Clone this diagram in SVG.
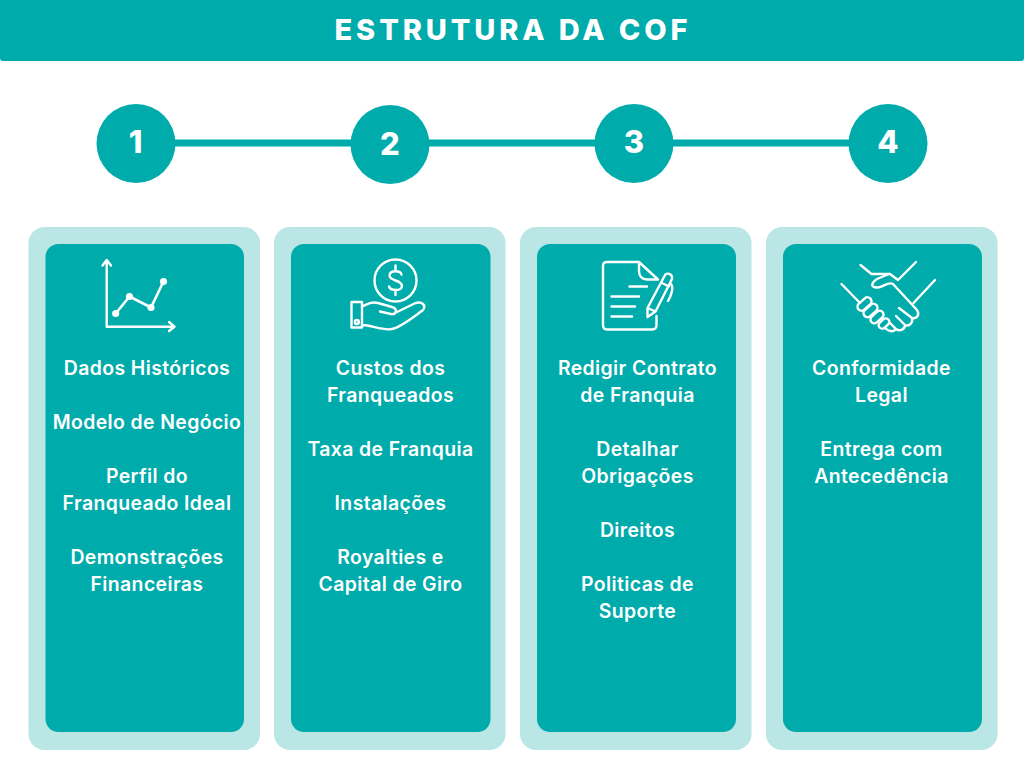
<svg xmlns="http://www.w3.org/2000/svg" width="1024" height="768" viewBox="0 0 1024 768">
<style>
.t{fill:#fff;font-family:Inter,"Open Sans","Liberation Sans",sans-serif;font-weight:600;font-size:19.400px;letter-spacing:.4px;text-anchor:middle}
.n{fill:#fff;font-family:Inter,"Liberation Sans",sans-serif;font-weight:800;font-size:31px;text-anchor:middle}
.o{fill:#bae6e5}.i{fill:#00abab}
.ic{fill:none;stroke:#fff;stroke-width:2.400;stroke-linecap:round;stroke-linejoin:round}
</style>
<rect width="1024" height="768" fill="#fff"/>
<g id="header"><rect x="0" y="-10" width="1024" height="71" rx="3" class="i"/>
<text x="513" y="40" fill="#fff" font-family="Inter,'Liberation Sans',sans-serif" font-weight="800" font-size="29" letter-spacing="3.900" text-anchor="middle">ESTRUTURA DA COF</text></g>
<g id="connectors"><path d="M175 143H351M429 143H595M673 143H849" stroke="#00abab" stroke-width="7" fill="none"/></g>
<g id="step1"><circle cx="136" cy="143.500" r="39.500" class="i"/><text x="135.500" y="153" class="n">1</text></g>
<g id="step2"><circle cx="390" cy="144.500" r="39.500" class="i"/><text x="390" y="155" class="n">2</text></g>
<g id="step3"><circle cx="634" cy="143.500" r="39.500" class="i"/><text x="634" y="153" class="n">3</text></g>
<g id="step4"><circle cx="888" cy="143.500" r="39.500" class="i"/><text x="888" y="153" class="n">4</text></g>
<g id="card1"><rect x="28.500" y="227" width="231.500" height="523" rx="16" class="o"/><rect x="45.500" y="244" width="198.500" height="488" rx="13" class="i"/>
<g class="ic"><path d="M106.700 261V326.700H174M102.500 265.500L106.700 260L111 265.500M169 322L174.500 326.700L169 331"/><path d="M115.700 313.500L129.500 296.500L151 307.500L163.500 281.500" stroke-width="2.600"/></g>
<g fill="#fff"><circle cx="115.700" cy="313.500" r="3.600"/><circle cx="129.500" cy="296.500" r="3.600"/><circle cx="151" cy="307.500" r="3.600"/><circle cx="163.500" cy="281.500" r="3.600"/></g>
<text x="147" y="374.500" class="t">Dados Históricos</text><text x="147" y="428.500" class="t">Modelo de Negócio</text><text x="147" y="482.500" class="t">Perfil do</text><text x="147" y="509.500" class="t">Franqueado Ideal</text><text x="147" y="563.500" class="t">Demonstrações</text><text x="147" y="590.500" class="t">Financeiras</text></g>
<g id="card2"><rect x="274" y="227" width="231.500" height="523" rx="16" class="o"/><rect x="291" y="244" width="199.500" height="488" rx="13" class="i"/>
<g class="ic"><circle cx="395.500" cy="280.500" r="21"/><path d="M401.500 274.500C400.500 270.500 390 269.500 389.500 275.500C389.500 281.500 402 279.500 402 286C401.500 291.500 390.500 291 389 286.500M395.500 265.500V269.500M395.500 291V295"/>
<path d="M351.500 302H362V327.500H351.500ZM362 306.500C368 303.500 372 301.500 378 303L392 307C398 308.500 396.500 315 391 314L380 311.500M394 313.500L414.500 303.500C422 300.500 427 305.500 422.500 310.500C412 318 401 327 392 329C382 331 372 325 362 325"/><circle cx="356.800" cy="322" r="2"/></g>
<text x="390.500" y="374.500" class="t">Custos dos</text><text x="390.500" y="401.500" class="t">Franqueados</text><text x="390.500" y="455.500" class="t">Taxa de Franquia</text><text x="390.500" y="509.500" class="t">Instalações</text><text x="390.500" y="563.500" class="t">Royalties e</text><text x="390.500" y="590.500" class="t">Capital de Giro</text></g>
<g id="card3"><rect x="520" y="227" width="231.500" height="523" rx="16" class="o"/><rect x="537" y="244" width="199" height="488" rx="13" class="i"/>
<g class="ic"><path d="M639 262H607C604 262 603 263.500 603 266V325C603 328 604.500 329.500 607 329.500H652C655 329.500 656.500 328 656.500 325V316M639 262L658 279.500M639 262V271C639 276 642 279.500 647 279.500H658"/>
<path d="M629.500 286.500H647M611.500 296.500H639M611.500 306.500H635M611.500 316.500H632"/>
<path d="M647.500 308L664.500 276C666 271.500 673 274 672 279L655.500 311.500L647.500 317ZM647.500 308L655.500 311.500M661 282.500L669 286.500M671 284C674 288 671 296 668 301"/></g>
<text x="637.500" y="374.500" class="t">Redigir Contrato</text><text x="637.500" y="401.500" class="t">de Franquia</text><text x="637.500" y="455.500" class="t">Detalhar</text><text x="637.500" y="482.500" class="t">Obrigações</text><text x="637.500" y="536.500" class="t">Direitos</text><text x="637.500" y="590.500" class="t">Politicas de</text><text x="637.500" y="617.500" class="t">Suporte</text></g>
<g id="card4"><rect x="766" y="227" width="231.500" height="523" rx="16" class="o"/><rect x="783" y="244" width="199" height="488" rx="13" class="i"/>
<g class="ic"><path d="M860.500 265L871.500 274H890L898 280L916 262M841.500 284L860 303M935 280L913.500 303"/>
<path d="M889 274L877 279C871 283 870 288 878 287.500C884 287 888 281 893 284L917 310C920 315 917 319 912 318L899 308M912 318C913 322 910 327 905 325L896 316M905 325C905 329 900 332 896 329L889 322M896 329C893 333 888 331 885 328"/>
<g transform="translate(864.500 304) rotate(-42)"><rect x="-8" y="-4" width="16" height="8" rx="4"/></g>
<g transform="translate(870.500 310.500) rotate(-42)"><rect x="-8" y="-4" width="16" height="8" rx="4"/></g>
<g transform="translate(877 317) rotate(-42)"><rect x="-7.500" y="-3.800" width="15" height="7.600" rx="3.800"/></g>
<g transform="translate(884 323.500) rotate(-42)"><rect x="-6" y="-3.500" width="12" height="7" rx="3.500"/></g></g>
<text x="881.500" y="374.500" class="t">Conformidade</text><text x="881.500" y="401.500" class="t">Legal</text><text x="881.500" y="455.500" class="t">Entrega com</text><text x="881.500" y="482.500" class="t">Antecedência</text></g>
</svg>
